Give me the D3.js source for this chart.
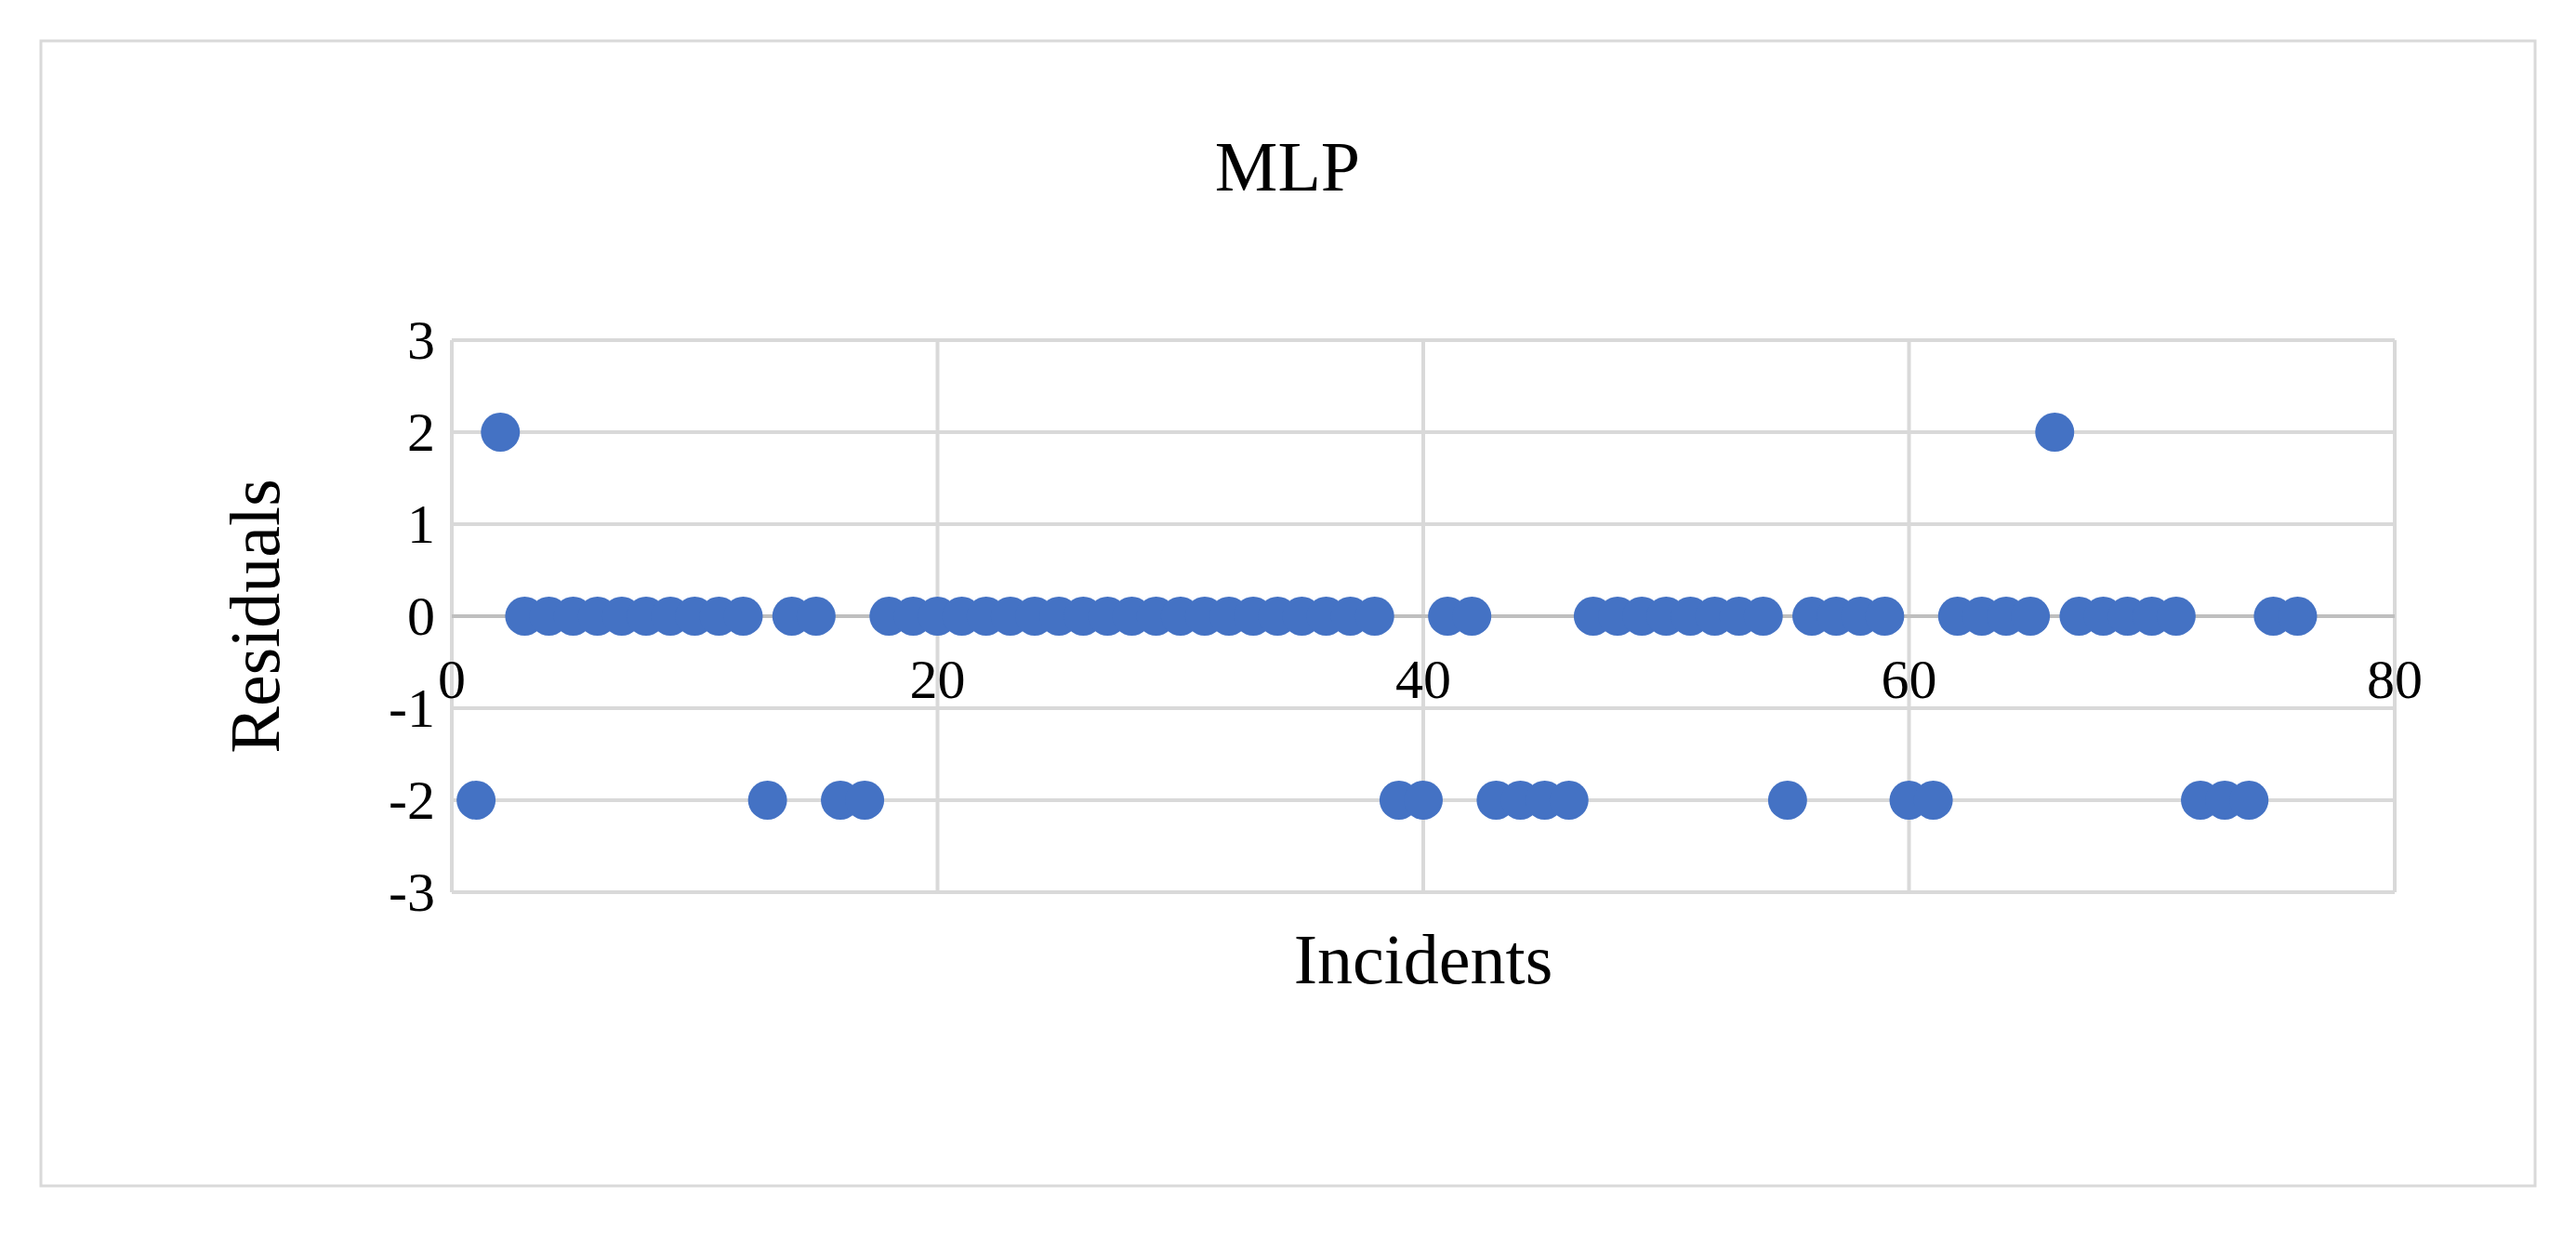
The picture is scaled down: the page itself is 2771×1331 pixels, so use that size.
<!DOCTYPE html>
<html><head><meta charset="utf-8">
<script src="https://cdn.jsdelivr.net/npm/d3@7"></script>
<style>body{margin:0;background:#fff}</style>
</head><body>
<svg id="chart" width="2771" height="1331"></svg>
<script>
// residual of each incident (1..76)
let incidents = d3.range(1, 77);
let residuals = [-2, 2, 0, 0, 0, 0, 0, 0, 0, 0, 0, 0, -2, 0, 0, -2, -2, 0, 0, 0,
    0, 0, 0, 0, 0, 0, 0, 0, 0, 0, 0, 0, 0, 0, 0, 0, 0, 0, -2, -2,
    0, 0, -2, -2, -2, -2, 0, 0, 0, 0, 0, 0, 0, 0, -2, 0, 0, 0, 0, -2,
    -2, 0, 0, 0, 0, 2, 0, 0, 0, 0, 0, -2, -2, -2, 0, 0];
let xTicks = [0, 20, 40, 60, 80];
let yTicks = [-3, -2, -1, 0, 1, 2, 3];

let canvas = d3.select("#chart");
let font = "'Liberation Serif', serif";
let plotLeft = 486, plotRight = 2576, plotTop = 366, plotBottom = 960;

canvas.append("rect")
    .attr("x", 44).attr("y", 44).attr("width", 2683).attr("height", 1232)
    .attr("fill", "#fff").attr("stroke", "#d9d9d9").attr("stroke-width", 3);

let x = d3.scaleLinear().domain([0, 80]).range([plotLeft, plotRight]);
let y = d3.scaleLinear().domain([-3, 3]).range([plotBottom, plotTop]);

// gridlines
canvas.selectAll(".vgrid").data(xTicks).enter().append("line")
    .attr("x1", d => x(d)).attr("x2", d => x(d))
    .attr("y1", plotTop).attr("y2", plotBottom)
    .attr("stroke", "#d9d9d9").attr("stroke-width", 4);
canvas.selectAll(".hgrid").data(yTicks).enter().append("line")
    .attr("x1", plotLeft).attr("x2", plotRight)
    .attr("y1", d => y(d)).attr("y2", d => y(d))
    .attr("stroke", d => d == 0 ? "#bfbfbf" : "#d9d9d9").attr("stroke-width", 4);

// tick labels
canvas.selectAll(".ylab").data(yTicks).enter().append("text")
    .attr("x", plotLeft - 18).attr("y", d => y(d) + 20)
    .attr("text-anchor", "end").attr("font-family", font).attr("font-size", 60)
    .text(d => d);
canvas.selectAll(".xlab").data(xTicks).enter().append("text")
    .attr("x", d => x(d)).attr("y", y(0) + 88)
    .attr("text-anchor", "middle").attr("font-family", font).attr("font-size", 60)
    .text(d => d);

// points
canvas.selectAll(".pt").data(incidents).enter().append("circle")
    .attr("cx", (d) => x(d))
    .attr("cy", (d, i) => y(residuals[i]))
    .attr("r", 21)
    .attr("fill", "#4472c4");

canvas.append("text")
    .attr("x", 1385).attr("y", 205)
    .attr("text-anchor", "middle").attr("font-family", font).attr("font-size", 76)
    .text("MLP");
canvas.append("text")
    .attr("x", (plotLeft + plotRight) / 2).attr("y", 1058)
    .attr("text-anchor", "middle").attr("font-family", font).attr("font-size", 76)
    .text("Incidents");
canvas.append("text")
    .attr("transform", "translate(300," + (plotTop + plotBottom) / 2 + ") rotate(-90)")
    .attr("text-anchor", "middle").attr("font-family", font).attr("font-size", 76)
    .text("Residuals");
</script>
</body></html>
